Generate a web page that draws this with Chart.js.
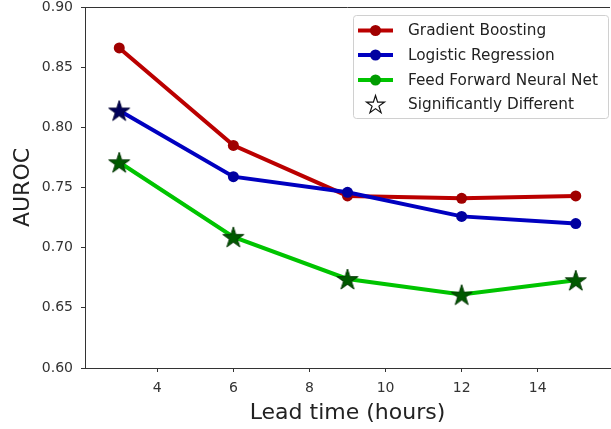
<!DOCTYPE html>
<html>
<head>
<meta charset="utf-8">
<script src="https://cdn.jsdelivr.net/npm/chart.js@4/dist/chart.umd.min.js"></script>
<style>
html,body{margin:0;padding:0;background:#fff;}
#wrap{width:611px;height:429px;position:relative;}
</style>
</head>
<body>
<div id="wrap"><canvas id="c" width="611" height="429"></canvas></div>
<script>
// ---- data ----
const leadTimes = [3, 6, 9, 12, 15];
const seriesNames = ['Gradient Boosting', 'Logistic Regression', 'Feed Forward Neural Net'];
const gbValues = [0.866, 0.785, 0.743, 0.741, 0.743];
const lrValues = [0.814, 0.759, 0.746, 0.726, 0.720];
const ffValues = [0.771, 0.709, 0.674, 0.661, 0.673];
const gbSignificant = [false, false, false, false, false];
const lrSignificant = [true, false, false, false, false];
const ffSignificant = [true, true, true, true, true];
const sigLabel = 'Significantly Different';
const xTickValues = [4, 6, 8, 10, 12, 14];
const yTickValues = [0.60, 0.65, 0.70, 0.75, 0.80, 0.85, 0.90];
const xTitle = 'Lead time (hours)';
const yTitle = 'AUROC';

const FONT = "'DejaVu Sans', sans-serif";

function starPath(ctx, cx, cy, R, r) {
  ctx.beginPath();
  for (let i = 0; i < 10; i++) {
    const rad = (i % 2 === 0) ? R : r;
    const a = -Math.PI / 2 + i * Math.PI / 5;
    const x = cx + rad * Math.cos(a), y = cy + rad * Math.sin(a);
    if (i === 0) ctx.moveTo(x, y); else ctx.lineTo(x, y);
  }
  ctx.closePath();
}
function makeStar(fill, stroke, R) {
  const c = document.createElement('canvas');
  const s = Math.ceil(2 * R + 4);
  c.width = s; c.height = s;
  const ctx = c.getContext('2d');
  starPath(ctx, s / 2, s / 2 + R * 0.1, R, R * 0.382);
  ctx.fillStyle = fill; ctx.fill();
  ctx.lineWidth = 1; ctx.strokeStyle = stroke; ctx.stroke();
  return c;
}
const lrStar = makeStar('#00005a', '#000035', 11);
const ffStar = makeStar('#005a00', '#003500', 11);

const styles = [
  {line: '#bb0000', marker: '#a00000', star: null},
  {line: '#0000c0', marker: '#0000a0', star: lrStar},
  {line: '#00c400', marker: '#009c00', star: ffStar}
];
const allValues = [gbValues, lrValues, ffValues];
const allSig = [gbSignificant, lrSignificant, ffSignificant];

const datasets = allValues.map((vals, k) => ({
  label: seriesNames[k],
  data: leadTimes.map((x, i) => ({x: x, y: vals[i]})),
  borderColor: styles[k].line,
  backgroundColor: styles[k].marker,
  pointBackgroundColor: styles[k].marker,
  pointBorderColor: styles[k].marker,
  borderWidth: 4,
  pointRadius: 5.5,
  pointBorderWidth: 0,
  pointHoverRadius: 5.5,
  pointStyle: allSig[k].map(s => s ? styles[k].star : 'circle'),
  tension: 0,
  order: 3 - k
}));

const frameAndLegend = {
  id: 'frameAndLegend',
  afterDraw(chart) {
    const ctx = chart.ctx;
    const a = chart.chartArea;
    ctx.save();
    // top spine
    ctx.strokeStyle = '#333';
    ctx.lineWidth = 1;
    ctx.beginPath();
    ctx.moveTo(a.left, Math.round(a.top) + 0.5);
    ctx.lineTo(a.right, Math.round(a.top) + 0.5);
    ctx.stroke();
    // legend
    const bx = 353.5, by = 15.5, bw = 255, bh = 103;
    ctx.fillStyle = 'rgba(255,255,255,0.85)';
    ctx.strokeStyle = '#d0d0d0';
    ctx.lineWidth = 1;
    ctx.beginPath();
    ctx.roundRect(bx, by, bw, bh, 3);
    ctx.fill(); ctx.stroke();
    const rows = [30.5, 55, 80, 104];
    ctx.font = '15.3px ' + FONT;
    ctx.textBaseline = 'middle';
    for (let k = 0; k < 3; k++) {
      const y = rows[k];
      ctx.strokeStyle = styles[k].line;
      ctx.lineWidth = 4;
      ctx.beginPath(); ctx.moveTo(358, y); ctx.lineTo(393, y); ctx.stroke();
      ctx.fillStyle = styles[k].marker;
      ctx.beginPath(); ctx.arc(375.5, y, 5.5, 0, Math.PI * 2); ctx.fill();
      ctx.fillStyle = '#222';
      ctx.fillText(seriesNames[k], 408, y + 1);
    }
    starPath(ctx, 375.5, rows[3] + 1, 9.5, 9.5 * 0.382);
    ctx.fillStyle = '#fff'; ctx.fill();
    ctx.strokeStyle = '#111'; ctx.lineWidth = 1.2; ctx.stroke();
    ctx.fillStyle = '#222';
    ctx.fillText(sigLabel, 408, rows[3] + 1);
    ctx.restore();
  }
};

new Chart(document.getElementById('c'), {
  type: 'line',
  data: {datasets: datasets},
  options: {
    responsive: false,
    animation: false,
    events: [],
    layout: {autoPadding: false, padding: {left: 0, top: 0, right: 0, bottom: 0}},
    plugins: {legend: {display: false}, tooltip: {enabled: false}},
    scales: {
      x: {
        type: 'linear',
        min: 2.1, max: 15.9,
        afterBuildTicks(s) { s.ticks = xTickValues.map(v => ({value: v})); },
        afterFit(s) { s.height = 61; s.paddingRight = 1; s.paddingLeft = 0; },
        grid: {display: true, drawOnChartArea: false, drawTicks: true, tickLength: 4, tickColor: '#333'},
        border: {display: true, color: '#333', width: 1},
        ticks: {color: '#333', font: {family: FONT, size: 14}, padding: 8, maxRotation: 0,
                callback: v => String(v)},
        title: {display: true, text: xTitle, color: '#222', font: {family: FONT, size: 22}, padding: {top: 0, bottom: 3}}
      },
      y: {
        type: 'linear',
        min: 0.6, max: 0.9,
        afterBuildTicks(s) { s.ticks = yTickValues.map(v => ({value: v})); },
        afterFit(s) { s.width = 85; s.paddingTop = 7; s.paddingBottom = 0; },
        grid: {display: true, drawOnChartArea: false, drawTicks: true, tickLength: 4, tickColor: '#333'},
        border: {display: true, color: '#333', width: 1},
        ticks: {color: '#333', font: {family: FONT, size: 14}, padding: 8,
                callback: v => Number(v).toFixed(2)},
        title: {display: true, text: yTitle, color: '#222', font: {family: FONT, size: 22}, padding: {top: 10, bottom: 0}}
      }
    }
  },
  plugins: [frameAndLegend]
});
</script>
</body>
</html>
